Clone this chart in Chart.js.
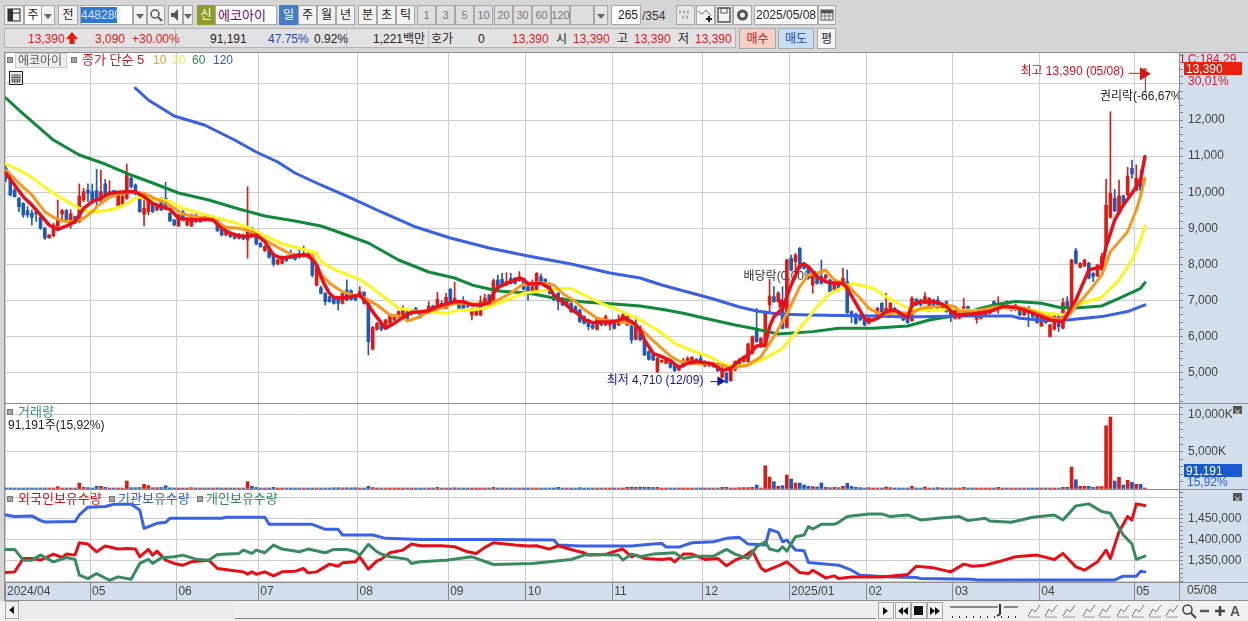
<!DOCTYPE html>
<html>
<head>
<meta charset="utf-8">
<script src="https://cdn.jsdelivr.net/npm/chart.js@4/dist/chart.umd.min.js"></script>
<style>
html,body{margin:0;padding:0;background:#d6d6d6;overflow:hidden}
#wrap{position:relative;width:1248px;height:621px;overflow:hidden;font-family:"Liberation Sans","Noto Sans CJK KR",sans-serif;font-size:12px;color:#222}
canvas{position:absolute;left:5px;background:#d3dfed}
.el{position:absolute;box-sizing:border-box;white-space:nowrap;line-height:1}
.btn{background:#f2f2f2;border:1px solid #a8a8a8;text-align:center;display:flex;align-items:center;justify-content:center}
.sq{position:absolute;width:6px;height:6px;background:#a6a6a6;border:1px solid #777;box-sizing:border-box}
</style>
</head>
<body>
<div id="wrap">
<canvas id="priceChart" width="1243" height="352" style="top:52px"></canvas>
<canvas id="volChart" width="1243" height="86" style="top:404px"></canvas>
<canvas id="holdChart" width="1243" height="111" style="top:490px"></canvas>
</div>
<script>
// month labels, tick sits between the last bar of a month and the first of the next
const monthLabels = ['2024/04','05','06','07','08','09','10','11','12','2025/01','02','03','04','05'];
const monthTicks = [-0.23,19.5,39.5,58.5,81.5,102.5,120.5,140.5,161.5,181.5,199.5,219.5,239.5,261.5];

const opens = [
10660,10385,10060,9830,9690,9490,9415,9460,9305,9000,
8740,8790,9065,9400,9490,9140,9320,9185,9785,10060,
10015,10045,9785,10230,9950,10045,9620,9645,9830,10385,
10200,9950,9395,9460,9690,9510,9830,9830,9415,9230,
9065,9460,9090,9065,9370,9185,9340,9340,9215,9275,
9030,8815,8880,8840,8725,8815,8677,9000,8815,8585,
8380,8420,8305,8010,8030,8215,8305,8260,8305,8215,
8305,8170,7420,7356,7200,7107,7060,7060,6920,7290,
7270,7150,7090,7225,6920,5650,6200,6370,6230,6370,
6460,6535,6600,6690,6625,6785,6690,6675,6645,6850,
6785,6920,6785,7310,6920,6920,6920,6830,6600,6600,
6600,6920,7150,6940,7570,7585,7430,7615,7615,7550,
7595,7385,7245,7270,7660,7585,7475,7150,7200,7060,
6875,6920,6830,6737,6553,6460,6320,6200,6460,6320,
6320,6415,6320,6415,6320,6295,5925,6276,5907,5584,
5492,5030,5300,5260,5335,5215,5076,5170,5260,5280,
5372,5400,5187,5280,5170,5260,4873,4984,4780,5076,
5187,5307,5307,5538,6230,5722,5722,6876,7107,6968,
6784,6258,8168,8076,8445,8030,7938,7430,7707,7660,
7615,7568,7290,7476,7430,7522,6692,6627,6572,6507,
6370,6440,6600,6922,6645,6692,6784,6692,6600,6600,
6442,7033,7015,6922,6720,7015,7015,6784,6968,6784,
6507,6508,6628,6831,6693,6480,6508,6600,6647,6970,
6785,6831,6970,6739,6739,6785,6600,6813,6693,6600,
6296,6508,6000,6204,6554,6231,6970,6831,8382,7920,
7957,8031,7754,7680,7847,8493,9305,9831,9416,9896,
9923,10662,10062,10385,13390];
const closes = [
10385,9925,9875,9600,9370,9370,9305,9400,9000,8725,
8815,9090,9230,9490,9205,9400,9155,9895,10015,9970,
9740,9785,10015,9925,10015,9925,9990,9895,10523,10155,
9950,9460,9555,9740,9460,9600,9510,9535,9205,9090,
9370,9230,9275,9370,9185,9295,9230,9230,9305,8935,
8815,8905,8770,8725,8835,8705,9000,8815,8565,8495,
8495,8195,8010,8125,8215,8105,8170,8140,8195,8305,
8195,7700,7985,7200,6970,6970,6920,6920,7200,7015,
7030,7015,7245,6920,5860,6260,6370,6200,6460,6600,
6553,6690,6737,6480,6737,6645,6535,6670,6850,6737,
7030,6785,7090,6970,7060,6737,6755,6825,6755,6737,
6970,7060,6875,7550,7310,7455,7520,7475,7475,7660,
7310,7245,7385,7750,7550,7455,7200,7015,6970,6875,
6970,6690,6690,6415,6370,6276,6230,6507,6320,6553,
6415,6230,6480,6600,6553,5907,6276,5907,5492,5372,
5353,5400,5340,5353,5150,5058,5187,5335,5400,5427,
5243,5243,5307,5187,5260,5058,5030,4726,5076,5307,
5353,5445,5796,5999,5860,5953,6692,7125,6968,7200,
6230,8122,7845,8261,7892,7892,7615,7753,7476,7476,
7707,7245,7522,7290,7615,6664,6600,6370,6461,6322,
6507,6460,6784,6692,6784,6922,6664,6600,6461,6387,
7060,6876,6876,7107,7060,6830,6784,6922,6692,6600,
6738,6739,6831,6628,6600,6573,6628,6693,6831,6785,
6877,6923,6831,6850,6877,6600,6803,6693,6554,6388,
6600,6388,6323,6573,6277,6942,6831,8123,8031,8031,
8123,7616,7662,7985,8216,9646,9970,9480,9896,9693,
10450,10505,10385,10062,13390];
const highs = [
10710,10430,10110,9860,9710,9600,9510,9550,9340,9030,
8830,9140,9785,9525,9525,9510,9340,10230,10110,10230,
10230,10635,10615,10355,10320,10060,10015,9925,10780,10430,
10230,9970,9925,9830,9720,9620,9850,10275,9440,9250,
9395,9490,9300,9395,9395,9320,9395,9370,9340,9300,
9050,8930,8905,8865,8860,8840,10155,9030,8840,8610,
8520,8445,8330,8150,8240,8240,8400,8285,8400,8510,
8330,8195,8010,7400,7220,7130,7085,7085,7225,7570,
7295,7170,7385,7250,6945,6285,6395,6395,6485,6625,
6575,6715,6850,6715,6760,6810,6715,6700,6970,6875,
7225,6995,7200,7335,7505,6945,7107,6850,6780,6760,
7125,7175,7175,7600,7705,7755,7770,7755,7640,7800,
7615,7410,7570,7775,7735,7610,7500,7175,7225,7085,
6995,6945,6855,6760,6575,6485,6345,6530,6485,6600,
6440,6440,6600,6645,6580,6320,6553,6300,5930,5610,
5515,5425,5360,5380,5360,5240,5210,5400,5445,5450,
5395,5492,5330,5305,5285,5285,5170,5010,5100,5330,
5400,5470,5820,6020,6784,5975,6715,7587,7384,7245,
7384,8146,8260,8306,8470,8060,7960,7775,7730,8122,
7730,7590,7545,7500,7890,7845,6715,6650,6595,6530,
6530,6480,6810,6945,7200,6945,6810,6715,6625,6625,
7107,7055,7040,7218,7085,7040,7107,6945,6990,6810,
6760,6760,7062,6850,6715,6600,6650,6715,6850,6990,
7108,6945,6990,6870,6900,6810,6825,6835,6715,6625,
6625,6530,6345,6647,6575,7062,7108,8145,8447,8050,
8145,8055,7775,8010,8308,10357,12230,10080,10339,9920,
10690,10892,10754,10615,13390];
const lows = [
10290,9895,9860,9460,9305,9305,9090,9185,8970,8695,
8720,8770,9000,9230,9180,9000,9130,9155,9740,9740,
9690,9555,9690,9925,9925,9910,9600,9620,9800,10110,
9925,9440,9065,9370,9440,9490,9490,9510,9185,9065,
9045,9205,9065,9045,9160,9160,9205,9205,9200,8910,
8790,8790,8745,8700,8700,8680,8170,8790,8540,8470,
8360,8170,7955,7990,8010,8080,8150,8120,8170,8195,
8170,7650,7400,7180,6876,6950,6900,6737,6900,6990,
7010,6990,7070,6900,5490,5630,6180,6155,6210,6350,
6440,6515,6580,6460,6600,6625,6510,6620,6625,6645,
6765,6765,6765,6950,6900,6715,6735,6805,6460,6580,
6580,6900,6850,6920,7290,7430,7410,7450,7450,7530,
7290,7000,7225,7250,7530,7430,7175,6990,6737,6850,
6850,6665,6665,6390,6345,6185,6205,6175,6300,6300,
6185,6205,6300,6390,6300,5815,5900,5880,5470,5350,
5330,5005,5280,5240,5125,5030,5050,5150,5240,5260,
5220,5220,5165,5165,5145,5030,4850,4710,4760,5050,
5165,5285,5285,5515,5835,5700,5700,6692,6945,6945,
6210,6235,7820,7800,7865,7865,7590,7200,7450,7450,
7590,7220,7265,7265,7405,6640,6387,6345,6440,6295,
6345,6420,6580,6670,6620,6670,6640,6575,6440,6365,
6420,6850,6850,6900,6695,6810,6760,6760,6670,6415,
6485,6485,6600,6600,6580,6370,6485,6580,6625,6765,
6647,6810,6739,6715,6715,6580,6580,6277,6530,6365,
6275,6365,5990,6180,6140,6210,6810,6810,8010,7900,
7935,7595,7524,7660,7825,8470,9280,9460,9390,9670,
9900,10385,10040,9923,13390];

// volume in thousands of shares
const volumes = [
130,130,130,120,130,130,120,130,130,120,
110,130,310,135,100,130,110,810,220,180,
130,360,360,230,140,130,100,110,1080,180,
180,200,630,450,180,180,200,450,160,130,
90,80,90,180,80,80,70,70,90,150,
80,70,60,60,70,60,990,360,200,80,
70,80,230,60,70,60,50,60,60,50,
50,60,60,60,60,60,170,170,150,160,
160,170,120,130,360,200,80,60,60,50,
50,50,50,50,60,70,60,30,60,50,
220,60,50,50,160,60,50,30,60,50,
60,60,60,220,80,60,60,50,50,50,
60,60,50,50,50,50,50,60,220,80,
70,60,60,180,60,50,60,60,50,60,
60,70,50,60,230,260,230,260,230,230,
200,220,70,60,50,60,50,60,60,70,
60,50,60,60,50,70,220,230,80,60,
180,180,180,220,540,70,3150,1620,990,360,
450,1890,1350,810,810,540,360,320,270,810,
220,180,220,180,360,765,360,220,180,130,
180,100,100,90,270,180,90,80,70,80,
360,130,120,270,120,80,180,90,80,70,
70,70,220,80,60,60,60,70,80,90,
220,80,70,70,60,70,60,70,60,60,
70,70,90,100,130,230,230,2970,1260,360,
360,360,220,320,320,8550,9730,1080,1580,540,
1170,900,630,630,91];

const ma5Idx = [0,2,4,6,8,10,12,14,16,17,18,20,22,24,26,28,30,32,34,36,38,40,42,44,46,48,50,52,54,56,58,60,62,64,66,68,70,72,73,74,75,76,78,80,82,84,85,86,88,90,92,94,96,98,100,102,104,106,108,110,112,113,114,116,118,119,120,121,122,124,126,127,129,131,133,134,136,138,140,142,143,145,146,147,148,150,152,154,156,158,160,162,164,166,168,170,172,174,176,177,178,180,181,182,184,185,186,188,190,192,194,195,197,199,200,202,204,206,208,209,210,212,214,216,218,220,221,224,228,231,234,236,239,242,245,247,248,250,251,253,254,255,257,259,261,262,263,264];
const ma5Val = [10523,10200,9877,9646,9370,9092,8972,9065,9185,9370,9554,9738,9830,9969,9997,10015,10015,9877,9692,9600,9526,9277,9250,9231,9250,9231,9000,8862,8788,8770,8815,8631,8262,8170,8215,8262,8262,7985,7660,7402,7200,7088,7060,7107,7153,6876,6691,6534,6230,6368,6534,6673,6691,6719,6830,6904,6968,6968,6876,6876,6940,7200,7365,7476,7568,7614,7587,7457,7457,7476,7337,7153,6968,6756,6599,6479,6387,6405,6414,6442,6534,6414,6322,6184,5907,5538,5445,5335,5150,5261,5307,5280,5233,5058,5122,5335,5492,5741,5769,6276,6553,6784,7107,7430,7984,8012,7938,7661,7522,7476,7476,7338,6922,6507,6433,6507,6692,6738,6600,6535,6876,6968,6968,6950,6830,6600,6600,6628,6693,6831,6804,6739,6600,6462,6416,6831,7016,7570,7847,7911,7939,8493,9231,9646,9970,10154,10339,10985];
const ma10Idx = [0,3,6,9,11,13,16,18,20,21,24,26,29,32,35,37,39,41,43,46,48,51,54,57,60,63,66,68,71,73,75,78,80,83,86,89,92,93,95,98,100,104,107,110,112,114,117,119,121,124,127,129,132,134,137,139,142,145,147,149,152,154,156,159,162,166,168,172,175,178,181,184,186,188,190,192,195,198,200,203,205,208,210,212,215,218,220,221,225,229,232,235,238,241,244,246,248,251,254,256,258,260,262,263,264];
const ma10Val = [10615,10246,9923,9462,9305,9203,9185,9277,9462,9600,9858,9951,10015,9969,9803,9711,9554,9397,9342,9295,9250,9028,9000,8908,8677,8474,8289,8262,8262,7734,7476,7245,7171,7079,6876,6599,6553,6433,6507,6691,6756,6922,6922,6894,6894,7014,7200,7384,7494,7494,7430,7200,6968,6756,6507,6461,6414,6368,6230,5999,5676,5464,5325,5261,5243,5215,5122,5215,5445,5999,6627,7384,7707,7753,7845,7568,7430,7061,6784,6600,6645,6664,6645,6784,6830,6876,6830,6693,6711,6813,6850,6813,6711,6573,6480,6536,6831,7247,7708,8354,8631,8908,9508,9896,10385];
const ma20Idx = [0,3,6,9,12,15,17,19,22,25,28,30,31,33,36,38,41,45,49,53,56,60,64,68,72,73,76,82,85,88,91,96,102,105,108,111,116,120,127,131,134,138,142,147,151,155,159,163,166,168,172,176,180,184,188,191,196,201,204,209,212,216,220,221,225,231,237,241,246,248,254,258,261,263,264];
const ma20Val = [10781,10615,10412,10135,9895,9692,9554,9462,9471,9535,9674,9831,9858,9803,9803,9738,9554,9415,9277,9157,9028,8788,8566,8446,8308,8076,7864,7587,7337,7060,6784,6691,6645,6737,6737,6784,7014,7200,7310,7337,7153,6922,6737,6461,6184,5815,5612,5445,5261,5187,5215,5399,5676,6230,6830,7199,7476,7338,7107,6784,6738,6738,6784,6739,6720,6785,6766,6647,6600,6877,7090,7570,8123,8677,9065];
const ma60Idx = [0,3,7,11,17,23,29,34,40,47,54,60,67,73,77,84,91,98,104,108,114,121,127,134,141,147,152,157,162,169,173,179,187,193,201,209,214,221,226,230,234,240,244,247,254,258,263,264];
const ma60Val = [12609,12277,11861,11446,11030,10781,10476,10255,9978,9784,9535,9341,9202,9064,8898,8593,8122,7790,7623,7430,7263,7208,7069,6959,6903,6848,6756,6645,6507,6322,6230,6073,6138,6230,6230,6295,6461,6600,6785,6905,6970,6924,6813,6785,6850,7062,7339,7496];
const ma120Idx = [30,33,39,46,53,58,63,67,73,80,87,95,103,112,121,131,140,147,152,158,164,170,174,179,186,201,209,221,233,235,241,246,254,260,264];
const ma120Val = [12886,12554,12111,11861,11446,11114,10837,10532,10200,9839,9452,9036,8731,8454,8233,8011,7762,7623,7430,7236,7042,6821,6710,6627,6600,6572,6545,6573,6573,6508,6444,6462,6554,6693,6877];

// holdings, in shares
const foreignIdx = [0,2,4,6,8,11,13,14,16,17,19,21,23,26,28,30,31,33,34,35,37,39,41,43,47,49,53,55,56,57,58,60,62,64,67,69,70,72,75,77,78,81,82,84,86,87,89,92,94,96,101,104,107,109,111,113,118,121,123,126,128,132,134,135,139,142,143,145,146,148,152,154,155,157,159,162,165,167,169,171,173,175,176,178,179,181,184,186,187,190,192,193,196,203,209,211,215,219,222,224,227,230,234,239,243,245,248,250,253,255,256,258,260,261,262,264];
const foreignVal = [1321400,1323000,1354800,1354800,1350800,1365100,1357100,1365100,1362700,1392100,1388900,1370600,1384100,1377000,1378600,1377000,1358700,1376200,1362700,1372200,1350800,1342900,1338900,1346800,1350800,1331000,1325400,1323000,1317500,1323000,1317500,1323000,1313500,1323000,1324600,1331000,1320600,1323000,1341300,1336500,1344400,1346800,1358700,1329400,1349200,1353200,1368300,1374600,1388900,1384900,1384900,1382500,1370600,1366700,1381000,1392100,1386500,1384100,1384900,1377000,1384900,1373000,1368300,1362700,1364300,1374600,1377000,1358700,1362700,1354800,1352400,1354800,1346800,1365100,1365100,1352400,1354800,1337300,1350800,1358700,1373000,1332500,1324600,1333300,1337300,1346800,1321400,1319000,1327000,1308700,1313500,1307100,1311100,1311100,1316700,1336500,1332500,1323000,1341300,1336500,1338900,1346800,1358700,1362700,1352400,1366700,1334900,1327000,1346800,1374600,1354800,1418300,1454000,1446000,1484100,1480200];
const instIdx = [0,2,6,8,9,16,17,19,23,25,29,31,32,35,37,38,50,51,60,61,71,74,77,78,85,88,96,113,127,128,133,145,150,152,153,156,159,164,167,170,172,176,177,179,180,181,183,185,186,193,196,198,205,211,212,224,225,257,259,262,263,264];
const instVal = [1457900,1454000,1455600,1444400,1441300,1442100,1457900,1476200,1477800,1483300,1483300,1469800,1426200,1438100,1440500,1450000,1450000,1452400,1452400,1435700,1435700,1423800,1423800,1410300,1410300,1402400,1400000,1400000,1398400,1386500,1384100,1384100,1388900,1390500,1381700,1381700,1392100,1394400,1402400,1404800,1388900,1386500,1423800,1416700,1394400,1398400,1374600,1373000,1345200,1338900,1327000,1315100,1311100,1309500,1307100,1305600,1304000,1304000,1312700,1312700,1324600,1323000];
const retailIdx = [0,2,4,6,8,11,14,16,17,19,21,24,26,29,31,33,34,36,39,41,44,47,49,54,55,57,58,60,62,64,68,70,74,76,79,81,82,84,86,87,89,93,94,96,102,108,113,122,127,131,134,135,142,143,145,147,150,155,157,160,164,167,169,172,174,176,177,179,180,181,183,185,186,187,189,192,193,195,200,203,205,209,212,216,221,223,227,228,233,238,243,245,248,251,254,256,259,261,262,264];
const retailVal = [1376200,1376200,1350800,1350800,1362700,1346800,1357100,1352400,1315100,1307100,1319000,1303200,1311100,1305600,1342900,1352400,1342900,1356300,1358700,1362700,1353200,1350800,1364300,1366700,1374600,1366700,1374600,1368300,1386500,1377000,1370600,1377000,1368300,1376200,1376200,1370600,1362700,1388100,1370600,1365100,1358700,1353200,1342900,1346800,1350800,1358700,1340500,1342900,1348400,1352400,1362700,1364300,1362700,1350800,1365100,1358700,1365100,1368300,1354800,1360300,1360300,1376200,1365100,1354800,1382500,1394400,1377000,1372200,1382500,1372200,1406300,1410300,1430200,1424600,1435700,1435700,1440500,1454000,1460300,1460300,1454000,1457900,1446000,1450000,1454000,1444400,1450000,1443700,1440500,1452400,1457900,1446000,1479400,1484100,1465900,1461900,1410300,1388900,1352400,1360300];

const allBars = closes.map((c, i) => i);
const upColor = '#d81e14', downColor = '#1e5ab8';
const barColors = closes.map((c, i) => c >= opens[i] ? upColor : downColor);
const gridColor = '#cdcdcd';
const fontFamily = '"Liberation Sans","Noto Sans CJK KR",sans-serif';
const plotRight = 271.9;

function pairs(idx, val) { return idx.map((x, i) => ({x: x, y: val[i]})); }
function lineSet(idx, val, color, order, width) {
    return {type: 'line', data: pairs(idx, val), borderColor: color, borderWidth: width || 3,
        pointRadius: 0, tension: 0, order: order, borderJoinStyle: 'round', borderCapStyle: 'round'};
}

function xScale(showLabels) {
    return {
        type: 'linear', min: monthTicks[0], max: plotRight, offset: false,
        grid: {color: gridColor, offset: false, drawTicks: showLabels, tickLength: 19, tickColor: '#8a8a8a'},
        border: {display: false},
        afterBuildTicks: s => { s.ticks = monthTicks.map(v => ({value: v})); },
        afterFit: s => { s.height = showLabels ? 19 : 0; s.paddingLeft = 0; s.paddingRight = 0; },
        ticks: {
            display: showLabels, autoSkip: false, maxRotation: 0, align: 'start', labelOffset: 2, padding: -17,
            color: '#444', font: {family: fontFamily, size: 12},
            callback: v => monthLabels[monthTicks.indexOf(v)]
        }
    };
}
function yScale(min, max, step, isMajor, isGrid, fmt) {
    return {
        position: 'right', min: min, max: max,
        // the stock tick generator widens the step on the short panes, so list them here
        afterBuildTicks: s => {
            const out = [];
            for (let v = Math.ceil(min / step) * step; v <= max; v += step) out.push({value: v});
            s.ticks = out;
        },
        afterFit: s => { s.width = 69; s.paddingTop = 0; s.paddingBottom = 0; },
        border: {color: '#8a8a8a'},
        grid: {color: c => isGrid(c.tick.value) ? gridColor : 'transparent', tickLength: 4, tickColor: '#8a8a8a'},
        ticks: {
            autoSkip: false, padding: 5,
            color: '#444', font: {family: fontFamily, size: 12},
            callback: v => isMajor(v) ? fmt(v) : ''
        }
    };
}
const whitePlot = {
    id: 'whitePlot',
    beforeDraw(chart) {
        const a = chart.chartArea;
        chart.ctx.fillStyle = '#fff';
        chart.ctx.fillRect(a.left, a.top, a.right - a.left, a.bottom - a.top);
    }
};

function arrowHead(ctx, x, y, dx, size, color) {
    ctx.fillStyle = color;
    ctx.beginPath();
    ctx.moveTo(x, y);
    ctx.lineTo(x - dx * size, y - size * 0.6);
    ctx.lineTo(x - dx * size, y + size * 0.6);
    ctx.closePath();
    ctx.fill();
}
// price notes, pinned to the bar they belong to
const highBar = 264, highPrice = 13390, lowBar = 167, lowPrice = 4710, dividendBar = 180, dividendPrice = 6930;
const priceNotes = {
    id: 'priceNotes',
    beforeDatasetsDraw(chart) {
        const ctx = chart.ctx, x = chart.scales.x, y = chart.scales.y;
        ctx.save();
        ctx.font = '12px ' + fontFamily;
        ctx.textBaseline = 'middle';
        ctx.textAlign = 'left';
        ctx.fillStyle = '#333';
        ctx.fillText('배당락(0,00%)', x.getPixelForValue(dividendBar) - 39, y.getPixelForValue(dividendPrice) - 26);
        ctx.restore();
    },
    afterDatasetsDraw(chart) {
        const ctx = chart.ctx, x = chart.scales.x, y = chart.scales.y, a = chart.chartArea;
        ctx.save();
        ctx.beginPath();
        ctx.rect(a.left, a.top, a.right - a.left, a.bottom - a.top);
        ctx.clip();
        ctx.font = '12px ' + fontFamily;
        ctx.textBaseline = 'middle';

        const hx = x.getPixelForValue(highBar), hy = y.getPixelForValue(highPrice);
        ctx.fillStyle = '#c8141e';
        ctx.textAlign = 'right';
        ctx.fillText('최고 13,390 (05/08)', hx - 21, hy + 2);
        ctx.strokeStyle = '#d8101a';
        ctx.lineWidth = 1;
        ctx.beginPath();
        ctx.moveTo(hx - 16, hy + 3.5); ctx.lineTo(hx - 3, hy + 3.5);
        ctx.moveTo(hx + 0.5, hy + 6); ctx.lineTo(hx + 0.5, hy + 22);
        ctx.stroke();
        arrowHead(ctx, hx + 6, hy + 4, 1, 11, '#e0101a');

        ctx.fillStyle = '#222';
        ctx.textAlign = 'left';
        ctx.fillText('권리락(-66,67%', hx - 45, hy + 27);

        const lx = x.getPixelForValue(lowBar), ly = y.getPixelForValue(lowPrice);
        ctx.fillStyle = '#14149c';
        ctx.textAlign = 'right';
        ctx.fillText('최저 4,710 (12/09)', lx - 23, ly - 2);
        ctx.strokeStyle = '#14149c';
        ctx.beginPath();
        ctx.moveTo(lx - 16, ly - 1.5); ctx.lineTo(lx - 6, ly - 1.5);
        ctx.stroke();
        arrowHead(ctx, lx - 1, ly - 2, 1, 8, '#14149c');

        const dx = x.getPixelForValue(dividendBar), dy = y.getPixelForValue(dividendPrice);
        arrowHead(ctx, dx + 5, dy, 1, 9, '#e0101a');
        ctx.restore();
    }
};

new Chart(document.getElementById('priceChart'), {
    type: 'bar',
    data: {
        datasets: [
            lineSet(ma5Idx, ma5Val, '#e8101a', 1, 3.5),
            lineSet(ma10Idx, ma10Val, '#f5981e', 2),
            lineSet(ma20Idx, ma20Val, '#fbf520', 3),
            lineSet(ma120Idx, ma120Val, '#3a60e6', 4),
            lineSet(ma60Idx, ma60Val, '#11893a', 5),
            {data: allBars.map(i => ({x: i, y: [opens[i], closes[i]]})), backgroundColor: barColors, barThickness: 3, minBarLength: 1, grouped: false, order: 6},
            {data: allBars.map(i => ({x: i, y: [lows[i], highs[i]]})), backgroundColor: barColors, barThickness: 1, grouped: false, order: 7}
        ]
    },
    options: {
        responsive: false, animation: false, devicePixelRatio: 1,
        layout: {padding: 0},
        plugins: {legend: {display: false}, tooltip: {enabled: false}},
        scales: {
            x: xScale(false),
            y: yScale(4133, 13884, 200,
                v => v % 1000 === 0 && v >= 5000 && v <= 12000,
                v => v % 1000 === 0,
                v => v.toLocaleString('en-US'))
        }
    },
    plugins: [whitePlot, priceNotes]
});

new Chart(document.getElementById('volChart'), {
    type: 'bar',
    data: {
        datasets: [{data: allBars.map(i => ({x: i, y: volumes[i]})), backgroundColor: barColors, barThickness: 3, minBarLength: 1}]
    },
    options: {
        responsive: false, animation: false, devicePixelRatio: 1,
        layout: {padding: 0},
        plugins: {legend: {display: false}, tooltip: {enabled: false}},
        scales: {
            x: xScale(false),
            y: yScale(-135, 11486, 1000,
                v => v === 5000 || v === 10000,
                v => v === 5000 || v === 10000,
                v => v.toLocaleString('en-US') + 'K')
        }
    },
    plugins: [whitePlot]
});

new Chart(document.getElementById('holdChart'), {
    type: 'line',
    data: {
        datasets: [
            lineSet(foreignIdx, foreignVal, '#e60f18', 1),
            lineSet(instIdx, instVal, '#3a62e4', 2),
            lineSet(retailIdx, retailVal, '#3a8a60', 0)
        ]
    },
    options: {
        responsive: false, animation: false, devicePixelRatio: 1,
        layout: {padding: 0},
        plugins: {legend: {display: false}, tooltip: {enabled: false}},
        scales: {
            x: xScale(true),
            y: yScale(1299000, 1517000, 10000,
                v => v >= 1350000 && v <= 1450000 && v % 50000 === 0,
                v => v % 50000 === 0,
                v => v.toLocaleString('en-US'))
        }
    },
    plugins: [whitePlot]
});

// ---- everything below is the window chrome around the chart ----
const wrap = document.getElementById('wrap');
function box(x, y, w, h, text, css, cls) {
    const d = document.createElement('div');
    d.className = cls || 'el';
    if (cls === 'btn') d.className = 'el btn';
    d.style.cssText = 'left:' + x + 'px;top:' + y + 'px;width:' + w + 'px;height:' + h + 'px;' + (css || '');
    d.textContent = text || '';
    wrap.appendChild(d);
    return d;
}
function label(x, y, text, color, css) {
    return box(x, y, 0, 0, text, 'overflow:visible;color:' + color + ';' + (css || ''));
}
function icon(x, y, w, h, inner) {
    const d = box(x, y, w, h, '', '');
    d.innerHTML = '<svg width="' + w + '" height="' + h + '" viewBox="0 0 ' + w + ' ' + h + '">' + inner + '</svg>';
}
function sq(x, y) { const d = box(x, y, 6, 6, '', ''); d.className = 'sq'; }
const hangul = 'font-size:13px';

// top row
const caret = '<polygon points="3,6 11,6 7,11" fill="#666"/>';
box(4, 5, 20, 20, '', '', 'btn');
icon(4, 5, 20, 20, '<rect x="4" y="4" width="12" height="12" fill="none" stroke="#222"/><rect x="4" y="4" width="5" height="12" fill="#333"/><path d="M4 8h12" stroke="#222"/>');
box(24, 5, 18, 20, '주', 'background:#fff', 'btn');
box(41, 5, 14, 20, '', '', 'btn'); icon(41, 8, 14, 14, caret);
box(58, 5, 20, 20, '전', '', 'btn');
box(80, 5, 53, 20, '', 'background:#fff;border:1px solid #aaa');
box(81, 7, 36, 16, '448280', 'background:#2f78d2;color:#cfe0f6;padding-top:2px;font-size:12px');
box(133, 5, 14, 20, '', '', 'btn'); icon(133, 8, 14, 14, caret);
box(147, 5, 18, 20, '', '', 'btn');
icon(147, 5, 18, 20, '<circle cx="8" cy="9" r="4" fill="none" stroke="#555" stroke-width="1.5"/><path d="M11 12l4 4" stroke="#555" stroke-width="2"/>');
box(168, 5, 15, 20, '', '', 'btn');
icon(168, 5, 15, 20, '<polygon points="3,8 6,8 10,4 10,16 6,12 3,12" fill="#555"/>');
box(183, 5, 10, 20, '', '', 'btn'); icon(181, 8, 14, 14, caret);
box(197, 5, 18, 20, '신', 'background:#8e9c2a;color:#fff;border-color:#8e9c2a', 'btn');
box(215, 5, 62, 20, '에코아이', 'background:#fff;color:#6a0a6a;font-size:13px;justify-content:flex-start;padding-left:2px', 'btn');
box(279, 5, 19, 20, '일', 'background:#4a7cc4;color:#fff;border-color:#4a7cc4', 'btn');
[['주', 298], ['월', 317], ['년', 336], ['분', 358], ['초', 377], ['틱', 396]].forEach(b => box(b[1], 5, 19, 20, b[0], '', 'btn'));
[['1', 417], ['3', 436], ['5', 455], ['10', 474], ['20', 494], ['30', 513], ['60', 532], ['120', 551]].forEach(b =>
    box(b[1], 5, 19, 20, b[0], 'color:#777;background:#dedede;font-size:11px', 'btn'));
box(570, 5, 24, 20, '', 'background:#dedede', 'btn');
box(594, 5, 14, 20, '', 'background:#e4e4e4', 'btn'); icon(594, 8, 14, 14, caret);
box(611, 5, 30, 20, '265', 'background:#fff;justify-content:flex-end;padding-right:2px', 'btn');
label(642, 10, '/354', '#333');
box(676, 5, 19, 20, '', 'background:#e6e6e6', 'btn');
icon(676, 5, 19, 20, '<path d="M3 7h2M7 7h2M11 7h2M6 12h2M10 12h2" stroke="#aaa" stroke-width="3"/>');
box(696, 5, 19, 20, '', '', 'btn');
icon(696, 5, 19, 20, '<path d="M2 6l4 3 4-4 5 6" fill="none" stroke="#777"/><path d="M13 11v6M10 14h6" stroke="#222" stroke-width="2"/>');
box(715, 5, 18, 20, '', '', 'btn');
icon(715, 5, 18, 20, '<rect x="3" y="3" width="12" height="14" fill="none" stroke="#555" stroke-width="1.5"/><rect x="6" y="3" width="6" height="5" fill="none" stroke="#555"/>');
box(733, 5, 19, 20, '', '', 'btn');
icon(733, 5, 19, 20, '<circle cx="9.5" cy="10" r="4" fill="none" stroke="#555" stroke-width="3"/>');
box(754, 5, 64, 20, '2025/05/08', 'background:#fff', 'btn');
box(818, 5, 18, 20, '', '', 'btn');
icon(818, 5, 18, 20, '<rect x="3" y="5" width="12" height="10" fill="none" stroke="#555"/><path d="M3 8h12M3 11h12M7 5v10M11 5v10" stroke="#777"/><rect x="3" y="5" width="12" height="3" fill="#555"/>');

// quote row
box(4, 28, 732, 20, '', 'background:#e2e2e2;border:1px solid #b4b4b4');
[175, 346, 428].forEach(x => box(x, 29, 1, 18, '', 'background:#bbb'));
label(28, 33, '13,390', '#d11f24');
icon(65, 30, 14, 16, '<polygon points="7,2 13,9 9.5,9 9.5,14 4.5,14 4.5,9 1,9" fill="#e8180c"/>');
label(95, 33, '3,090', '#d11f24');
label(132, 33, '+30.00%', '#d11f24');
label(210, 33, '91,191', '#222');
label(268, 33, '47.75%', '#234aa8');
label(314, 33, '0.92%', '#222');
label(373, 33, '1,221백만', '#222');
label(431, 33, '호가', '#222');
label(478, 33, '0', '#222');
label(512, 33, '13,390', '#d11f24');
label(556, 33, '시', '#222');
label(573, 33, '13,390', '#d11f24');
label(617, 33, '고', '#222');
label(634, 33, '13,390', '#d11f24');
label(678, 33, '저', '#222');
label(695, 33, '13,390', '#d11f24');
box(739, 28, 37, 21, '매수', 'background:#f3cfc6;color:#c01818', 'btn');
box(778, 28, 36, 21, '매도', 'background:#c5def5;color:#1c4aa0', 'btn');
box(817, 28, 19, 21, '평', 'background:#f4f4f4', 'btn');

// pane legends
sq(7, 57);
box(15, 53, 52, 15, '에코아이', 'background:#eee;border:1px solid #ccc;color:#555;padding:1px 2px');
sq(71, 57);
label(82, 53, '종가 단순 5', '#cc1e22', hangul);
label(153, 54, '10', '#e8a030');
label(172, 54, '20', '#ecec40');
label(192, 54, '60', '#2f8a4c');
label(213, 54, '120', '#3a5ab8');
box(9, 71, 14, 14, '', 'background:#e8e8e8;border:1px solid #222');
icon(9, 71, 14, 14, '<path d="M3 4h8v7H3zM3 6.5h8M3 9h8M5.7 4v7M8.3 4v7" fill="none" stroke="#555"/>');

sq(7, 409);
label(18, 405, '거래량', '#3f8f8a', hangul);
label(8, 419, '91,191주(15,92%)', '#222');
sq(7, 496);
label(18, 492, '외국인보유수량', '#d4141c', hangul);
sq(109, 496);
label(118, 492, '기관보유수량', '#3a62c8', hangul);
sq(197, 496);
label(206, 492, '개인보유수량', '#3a8a60', hangul);

// right axis badges
label(1181, 53, 'LC:184,29', '#d11f24');
box(1184, 62, 58, 13, '13,390', 'background:#e8200e;color:#fff;padding:1px 2px');
label(1188, 75, '30,01%', '#d11f24');
box(1184, 464, 58, 13, '91,191', 'background:#1a5ad0;color:#fff;padding:1px 2px');
label(1187, 476, '15,92%', '#2f62c8');
[[1233, 406], [1233, 493]].forEach(p => {
    box(p[0], p[1], 9, 8, '', 'background:#555');
    icon(p[0], p[1], 9, 8, '<path d="M2 1.5l5 5M7 1.5l-5 5" stroke="#eee"/>');
});
label(1187, 584, '05/08', '#444');

// pane frame lines
[[52, 1], [403, 1], [489, 1], [582, 1], [600, 1]].forEach(l => box(5, l[0], 1243, l[1], '', 'background:#8e8e8e'));
box(4, 52, 1, 549, '', 'background:#8e8e8e');
box(1179, 582, 1, 19, '', 'background:#8e8e8e');

// scroll bar and bottom tools
box(0, 601, 1248, 20, '', 'background:#f0f0f0');
box(5, 601, 14, 18, '', '', 'btn');
icon(5, 601, 14, 18, '<polygon points="9,5 9,13 4,9" fill="#111"/>');
box(20, 602, 215, 17, '', 'background:repeating-conic-gradient(#f4f4f4 0 25%,#e2e2e2 0 50%) 0 0/2px 2px');
box(235, 602, 641, 17, '', 'background:#efefef;border-bottom:1px solid #888');
const playShapes = ['<polygon points="5,5 5,13 10,9" fill="#111"/>',
    '<polygon points="8,5 8,13 3,9" fill="#111"/><polygon points="13,5 13,13 8,9" fill="#111"/>',
    '<rect x="3" y="4" width="9" height="9" fill="#111"/>',
    '<polygon points="3,5 3,13 8,9" fill="#111"/><polygon points="8,5 8,13 13,9" fill="#111"/>'];
[878, 895, 911, 927].forEach((x, i) => {
    box(x, 602, 16, 17, '', '', 'btn');
    icon(x, 602, 16, 17, playShapes[i]);
});
icon(948, 602, 72, 18, '<path d="M2 5h48M56 5h14" stroke="#888" stroke-width="2"/><path d="M52 2v10l-3 2" stroke="#333" stroke-width="2" fill="none"/><path d="M4 15h64" stroke="#333" stroke-dasharray="1 6" stroke-width="2"/>');
const toolX = [1026, 1043, 1061, 1081, 1097, 1115, 1130, 1147, 1164];
toolX.forEach(x => icon(x, 603, 16, 16, '<path d="M2 13l4-7 3 3 5-7" fill="none" stroke="#777"/><path d="M2 14h12" stroke="#999"/>'));
icon(1181, 603, 16, 16, '<circle cx="6.5" cy="6.5" r="4.5" fill="none" stroke="#444" stroke-width="1.5"/><path d="M10 10l5 5" stroke="#444" stroke-width="2"/>');
icon(1198, 603, 13, 16, '<path d="M2 8h9" stroke="#555" stroke-width="2.5"/>');
icon(1213, 603, 15, 16, '<path d="M2 8h10M7 3v10" stroke="#444" stroke-width="2.5"/>');
label(1230, 604, 'A', '#555', 'font-weight:bold;font-size:14px');
</script>
</body>
</html>
